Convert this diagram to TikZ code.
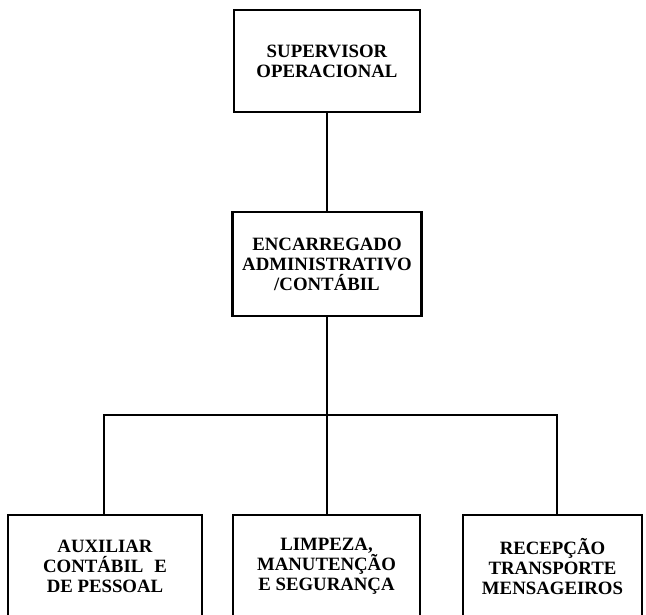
\documentclass[tikz,border=0pt]{standalone}
\usepackage{fontspec}
\setmainfont{Liberation Serif}
\begin{document}
\begin{tikzpicture}[x=1pt,y=-1pt,
  box/.style={draw=black, line width=2.2pt, fill=none, align=center, inner sep=0pt,
    font=\bfseries\fontsize{18.8}{20}\selectfont},
  conn/.style={draw=black, line width=2.2pt}]
\useasboundingbox (0,0) rectangle (646,615);
\clip (0,0) rectangle (646,615);
\node[box, minimum width=186, minimum height=102] (sup) at (327,61) {SUPERVISOR\\OPERACIONAL};
\node[box, minimum width=189, minimum height=104] (enc) at (327,264) {ENCARREGADO\\ADMINISTRATIVO\\/CONTÁBIL};
\node[box, minimum width=194, minimum height=103] (aux) at (105,566.5) {AUXILIAR\\CONTÁBIL\,\, E\\DE PESSOAL};
\node[box, minimum width=187, minimum height=103] (lim) at (326.5,566.5) {LIMPEZA,\\MANUTENÇÃO\\E SEGURANÇA};
\node[box, minimum width=179, minimum height=103] (rec) at (552.5,566.5) {RECEPÇÃO\\TRANSPORTE\\MENSAGEIROS};
\coordinate (b1) at (104,415);
\coordinate (b2) at (327,415);
\coordinate (b3) at (557,415);
\draw[conn] (sup.south) -- (enc.north);
\draw[conn] (enc.south) -- (b2);
\draw[conn] ([xshift=-1.1pt]b1) -- ([xshift=1.1pt]b3);
\draw[conn] (b1) -- (b1 |- aux.north);
\draw[conn] (b2) -- (b2 |- lim.north);
\draw[conn] (b3) -- (b3 |- rec.north);
\end{tikzpicture}
\end{document}
